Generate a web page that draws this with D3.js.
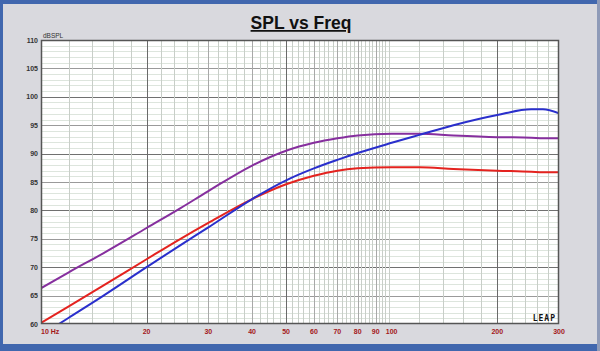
<!DOCTYPE html>
<html>
<head>
<meta charset="utf-8">
<script src="https://cdn.jsdelivr.net/npm/d3@7"></script>
<style>
  body { margin: 0; background: #d9d9de; }
  svg { display: block; }
</style>
</head>
<body>
<script>
// frequency points (Hz) shared by all three curves
var freqs = [10, 12, 15, 20, 25, 30, 40, 50, 60, 70, 80, 100, 120, 150, 200, 250, 270, 300];
// SPL (dB)
var purpleSpl = [66.3, 69.1, 72.4, 76.9, 80.4, 83.4, 87.9, 90.5, 91.9, 92.7, 93.2, 93.5, 93.5, 93.2, 92.9, 92.8, 92.7, 92.7];
var redSpl    = [60.2, 63.1, 66.7, 71.4, 75.0, 77.8, 82.0, 84.6, 86.1, 87.0, 87.4, 87.6, 87.6, 87.3, 87.0, 86.8, 86.7, 86.7];
var blueSpl   = [58.0, 61.1, 64.9, 70.0, 73.9, 77.0, 82.0, 85.3, 87.4, 88.9, 90.1, 91.9, 93.3, 95.0, 96.8, 97.8, 97.8, 97.1];

var xTickLabels = ["10 Hz", "20", "30", "40", "50", "60", "70", "80", "90", "100", "200", "300"];
var xTickValues = [10, 20, 30, 40, 50, 60, 70, 80, 90, 100, 200, 300];
var yTickValues = [60, 65, 70, 75, 80, 85, 90, 95, 100, 105, 110];

var W = 600, H = 351;
var plotL = 41, plotR = 559, plotT = 40, plotB = 324;

var svg = d3.select("body").append("svg").attr("width", W).attr("height", H);

// panel + blue frame
svg.append("rect").attr("width", W).attr("height", H).attr("fill", "#d9d9de");
svg.append("rect").attr("x", 0).attr("y", 0).attr("width", W).attr("height", 4).attr("fill", "#4167ae");
svg.append("rect").attr("x", 0).attr("y", 0).attr("width", 3).attr("height", H).attr("fill", "#4167ae");
svg.append("rect").attr("x", 0).attr("y", 344).attr("width", W).attr("height", 7).attr("fill", "#4167ae");
svg.append("rect").attr("x", 597).attr("y", 0).attr("width", 3).attr("height", H).attr("fill", "#8f9bb8");

var x = d3.scaleLog().domain([10, 300]).range([plotL, plotR]);
var y = d3.scaleLinear().domain([60, 110]).range([plotB, plotT]);

// plot background
svg.append("rect").attr("x", plotL).attr("y", plotT).attr("width", plotR - plotL).attr("height", plotB - plotT).attr("fill", "#ffffff");

var grid = svg.append("g");

// horizontal grid: every 1 dB light, every 5 dB medium, every 10 dB dark
d3.range(61, 110).forEach(function(v) {
  var col = v % 10 === 0 ? "#707070" : (v % 5 === 0 ? "#9a9a9a" : "#dde5dd");
  grid.append("line")
    .attr("x1", plotL).attr("x2", plotR)
    .attr("y1", Math.round(y(v)) + 0.5).attr("y2", Math.round(y(v)) + 0.5)
    .attr("stroke", col).attr("stroke-width", 1);
});

// vertical grid: every 2 Hz up to 100, every 20 Hz above
var vLines = d3.range(12, 100, 2).concat(d3.range(120, 300, 20));
vLines.forEach(function(f) {
  var major = [20, 50, 100, 200].indexOf(f) >= 0;
  var mid = [30, 40, 60, 70, 80, 90].indexOf(f) >= 0;
  grid.append("line")
    .attr("x1", Math.round(x(f)) + 0.5).attr("x2", Math.round(x(f)) + 0.5)
    .attr("y1", plotT).attr("y2", plotB)
    .attr("stroke", major ? "#6a6a6a" : (mid ? "#a8a8a8" : "#c8cec8"))
    .attr("stroke-width", 1);
});

// curves
svg.append("clipPath").attr("id", "clip")
  .append("rect").attr("x", plotL).attr("y", plotT).attr("width", plotR - plotL).attr("height", plotB - plotT);

var line = d3.line()
  .x(function(d) { return x(d[0]); })
  .y(function(d) { return y(d[1]); })
  .curve(d3.curveMonotoneX);

var series = [
  { values: purpleSpl, color: "#862f9e" },
  { values: redSpl, color: "#e4231f" },
  { values: blueSpl, color: "#2a2fcc" }
];

series.forEach(function(s) {
  svg.append("path")
    .datum(freqs.map(function(f, i) { return [f, s.values[i]]; }))
    .attr("clip-path", "url(#clip)")
    .attr("fill", "none")
    .attr("stroke", s.color)
    .attr("stroke-width", 2)
    .attr("d", line);
});

// frame
svg.append("rect").attr("x", plotL + 0.5).attr("y", plotT + 0.5)
  .attr("width", plotR - plotL - 1).attr("height", plotB - plotT - 1)
  .attr("fill", "none").attr("stroke", "#555").attr("stroke-width", 1.5);

// y axis labels
svg.append("g").selectAll("text")
  .data(yTickValues)
  .enter().append("text")
  .attr("x", 38)
  .attr("y", function(d) { return y(d) + 2.5; })
  .attr("text-anchor", "end")
  .attr("font-family", "Liberation Sans, Arial, sans-serif")
  .attr("font-size", 7)
  .attr("font-weight", "bold")
  .attr("fill", "#333")
  .text(function(d) { return d; });

svg.append("text")
  .attr("x", 43).attr("y", 38)
  .attr("font-family", "Liberation Sans, Arial, sans-serif")
  .attr("font-size", 6.5)
  .attr("fill", "#333")
  .text("dBSPL");

// x axis labels
svg.append("g").selectAll("text")
  .data(xTickValues)
  .enter().append("text")
  .attr("x", function(d) { return x(d); })
  .attr("y", 334)
  .attr("text-anchor", function(d, i) { return i === 0 ? "start" : "middle"; })
  .attr("font-family", "Liberation Sans, Arial, sans-serif")
  .attr("font-size", 7)
  .attr("font-weight", "bold")
  .attr("fill", "#a3171b")
  .text(function(d, i) { return xTickLabels[i]; });

// title
svg.append("text")
  .attr("x", 301).attr("y", 29)
  .attr("text-anchor", "middle")
  .attr("font-family", "Liberation Sans, Arial, sans-serif")
  .attr("font-size", 17.5)
  .attr("font-weight", "bold")
  .attr("text-decoration", "underline")
  .attr("fill", "#111")
  .text("SPL vs Freq");

// LEAP mark
svg.append("text")
  .attr("x", 556).attr("y", 321)
  .attr("text-anchor", "end")
  .attr("font-family", "DejaVu Sans Mono, monospace")
  .attr("font-size", 8)
  .attr("font-weight", "bold")
  .attr("letter-spacing", 1)
  .attr("fill", "#111")
  .text("LEAP");
</script>
</body>
</html>
